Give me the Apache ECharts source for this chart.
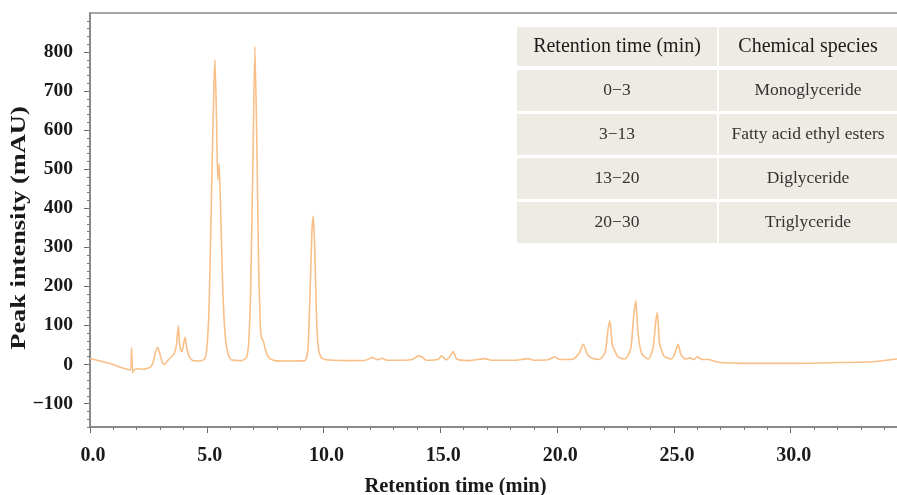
<!DOCTYPE html>
<html>
<head>
<meta charset="utf-8">
<title>Chromatogram</title>
<script src="https://cdn.jsdelivr.net/npm/echarts@6/dist/echarts.min.js"></script>
<style>
  html, body { margin: 0; padding: 0; background: #ffffff; }
  #chart { width: 897px; height: 495px; }
</style>
</head>
<body>
<div id="chart"></div>
<script>
// Retention time (min) and detector response (mAU) of the chromatogram trace
const retentionTime = [
  0, 0.5, 0.9, 1.3, 1.6, 1.74, 1.78, 1.83, 1.9, 2.1, 2.3, 2.5, 2.6, 2.7, 2.8, 2.9, 3.0, 3.1, 3.2, 3.3,
  3.45, 3.6, 3.7, 3.78, 3.85, 3.93, 4.0, 4.07, 4.15, 4.25, 4.4, 4.7, 4.9, 5.0, 5.1, 5.2, 5.3, 5.35, 5.42, 5.47,
  5.53, 5.6, 5.68, 5.78, 5.9, 6.05, 6.5, 6.7, 6.8, 6.88, 6.97, 7.06, 7.14, 7.22, 7.3, 7.35, 7.42, 7.5, 7.65, 7.9,
  8.5, 9.2, 9.33, 9.42, 9.5, 9.56, 9.62, 9.7, 9.78, 9.9, 10.1, 11.0, 11.8, 12.1, 12.3, 12.5, 12.7, 13.3, 13.8, 14.05,
  14.2, 14.4, 14.9, 15.05, 15.25, 15.4, 15.55, 15.7, 16.2, 16.5, 16.9, 17.2, 18.2, 18.75, 19.0, 19.6, 19.9, 20.1, 20.4, 20.7,
  20.95, 21.12, 21.3, 21.5, 21.8, 22.05, 22.18, 22.26, 22.36, 22.47, 22.6, 22.9, 23.15, 23.27, 23.37, 23.45, 23.54, 23.65, 23.9, 24.1,
  24.22, 24.29, 24.37, 24.45, 24.6, 24.9, 25.05, 25.18, 25.3, 25.5, 25.7, 25.85, 26.0, 26.2, 26.5, 26.7, 27.0, 28.0, 30.0, 32.0,
  33.5, 34.55
];
const intensity = [
  15, 8, 2, -7, -12, -14, 43, -21, -13, -11, -12, -9, -6, 5, 30, 44, 25, 5, 0, 8,
  18, 27, 50, 99, 45, 32, 50, 70, 40, 20, 10, 9, 14, 40, 150, 430, 700, 780, 620, 472,
  513, 380, 200, 80, 30, 12, 10, 18, 60, 200, 500, 814, 580, 250, 90, 68, 60, 40, 18, 10,
  9, 10, 40, 180, 340, 380, 300, 120, 40, 18, 12, 10, 11, 18, 12, 16, 11, 11, 13, 22,
  20, 11, 13, 22, 12, 20, 33, 14, 10, 12, 15, 11, 11, 15, 11, 12, 20, 13, 13, 14,
  30, 52, 25, 16, 13, 30, 90, 112, 50, 35, 20, 14, 40, 120, 163, 90, 47, 25, 14, 40,
  110, 133, 60, 40, 20, 14, 30, 52, 25, 14, 17, 12, 20, 13, 13, 9, 5, 3, 3, 5,
  7, 14
];

// Axis tick labels
const xTickLabels = [0, 5, 10, 15, 20, 25, 30];
const xMinorTicks = [0, 1, 2, 3, 4, 5, 6, 7, 8, 9, 10, 11, 12, 13, 14, 15, 16, 17, 18, 19, 20,
  21, 22, 23, 24, 25, 26, 27, 28, 29, 30, 31, 32, 33, 34];
const yTickLabels = [-100, 0, 100, 200, 300, 400, 500, 600, 700, 800];
const yMinorTicks = [-160, -140, -120, -100, -80, -60, -40, -20, 0, 20, 40, 60, 80, 100, 120, 140, 160,
  180, 200, 220, 240, 260, 280, 300, 320, 340, 360, 380, 400, 420, 440, 460, 480, 500, 520, 540,
  560, 580, 600, 620, 640, 660, 680, 700, 720, 740, 760, 780, 800, 820, 840, 860, 880];

// Axis titles
const xTitle = 'Retention time (min)';
const yTitle = 'Peak intensity (mAU)';

// Inset table: retention-time windows and the species eluting in them
const tableHeader = ['Retention time (min)', 'Chemical species'];
const timeRanges = ['0\u22123', '3\u221213', '13\u221220', '20\u221230'];
const chemicalSpecies = ['Monoglyceride', 'Fatty acid ethyl esters', 'Diglyceride', 'Triglyceride'];

const SERIF = '"Liberation Serif", "Times New Roman", "DejaVu Serif", serif';
const AXIS_GREY = '#8a8a8a';
const X_MIN = 0, X_MAX = 34.55, Y_MIN = -160, Y_MAX = 900;

function buildTable() {
  const left = 517, colSplit = 718, right = 897, gap = 2;
  const cellFill = '#edebe3';
  const els = [];
  const rows = [{ top: 27, h: 39, cells: tableHeader, size: 20, color: '#1c1c1c' }];
  timeRanges.forEach((r, i) => {
    rows.push({ top: 70 + i * 44, h: 41, cells: [r, chemicalSpecies[i]], size: 17.5, color: '#333333' });
  });
  rows.forEach(row => {
    const cols = [[left, colSplit - gap / 2], [colSplit + gap / 2, right]];
    cols.forEach((c, j) => {
      els.push({
        type: 'rect', silent: true,
        shape: { x: c[0], y: row.top, width: c[1] - c[0], height: row.h },
        style: { fill: cellFill }
      });
      els.push({
        type: 'text', silent: true,
        x: (c[0] + c[1]) / 2, y: row.top + row.h / 2,
        style: {
          text: row.cells[j], fill: row.color, font: row.size + 'px ' + SERIF,
          align: 'center', verticalAlign: 'middle'
        }
      });
    });
  });
  return els;
}

// Vertical axis title, stretched along its baseline
function buildYTitle() {
  return {
    type: 'text', silent: true,
    x: 20, y: 228, rotation: Math.PI / 2, scaleX: 1.32,
    style: {
      text: yTitle, fill: '#1a1a1a', font: 'bold 20px ' + SERIF,
      align: 'center', verticalAlign: 'middle'
    }
  };
}

const chart = echarts.init(document.getElementById('chart'), null, { renderer: 'canvas' });
chart.setOption({
  animation: false,
  backgroundColor: '#ffffff',
  grid: { left: 90, right: 0, top: 13, bottom: 68, containLabel: false, outerBoundsMode: 'none' },
  xAxis: [
    {
      type: 'value', min: X_MIN, max: X_MAX, position: 'bottom',
      name: xTitle, nameLocation: 'middle', nameGap: 49,
      nameTextStyle: { fontFamily: SERIF, fontWeight: 'bold', fontSize: 20.5, color: '#1a1a1a', padding: [0, 76, 0, 0] },
      axisLine: { show: true, onZero: false, lineStyle: { color: AXIS_GREY, width: 2 } },
      axisTick: { show: true, customValues: xTickLabels, length: 6, lineStyle: { color: '#666666', width: 1 } },
      axisLabel: {
        customValues: xTickLabels, margin: 19, padding: [0, 0, 0, 6],
        formatter: v => v.toFixed(1),
        fontFamily: SERIF, fontWeight: 'bold', fontSize: 20, color: '#1a1a1a'
      },
      splitLine: { show: false }
    },
    {
      type: 'value', min: X_MIN, max: X_MAX, position: 'bottom',
      axisLine: { show: false, onZero: false },
      axisTick: { show: true, customValues: xMinorTicks, length: 3, lineStyle: { color: '#777777', width: 1 } },
      axisLabel: { show: false },
      splitLine: { show: false }
    },
    {
      type: 'value', min: X_MIN, max: X_MAX, position: 'top',
      axisLine: { show: true, onZero: false, lineStyle: { color: AXIS_GREY, width: 1.5 } },
      axisTick: { show: false }, axisLabel: { show: false }, splitLine: { show: false }
    }
  ],
  yAxis: [
    {
      type: 'value', min: Y_MIN, max: Y_MAX, position: 'left',
      axisLine: { show: true, onZero: false, lineStyle: { color: AXIS_GREY, width: 2 } },
      axisTick: { show: true, customValues: yTickLabels, length: 6, lineStyle: { color: '#666666', width: 1 } },
      axisLabel: {
        customValues: yTickLabels, margin: 17,
        formatter: v => String(v).replace('-', '\u2212'),
        fontFamily: SERIF, fontWeight: 'bold', fontSize: 19.5, color: '#1a1a1a'
      },
      splitLine: { show: false }
    },
    {
      type: 'value', min: Y_MIN, max: Y_MAX, position: 'left',
      axisLine: { show: false, onZero: false },
      axisTick: { show: true, customValues: yMinorTicks, length: 3, lineStyle: { color: '#777777', width: 1 } },
      axisLabel: { show: false },
      splitLine: { show: false }
    }
  ],
  series: [
    {
      type: 'line',
      xAxisIndex: 0, yAxisIndex: 0,
      data: retentionTime.map((t, i) => [t, intensity[i]]),
      showSymbol: false,
      smooth: 0.2,
      lineStyle: { color: '#f9bf88', width: 1.6 },
      z: 3
    }
  ],
  graphic: buildTable().concat([buildYTitle()])
});
</script>
</body>
</html>
